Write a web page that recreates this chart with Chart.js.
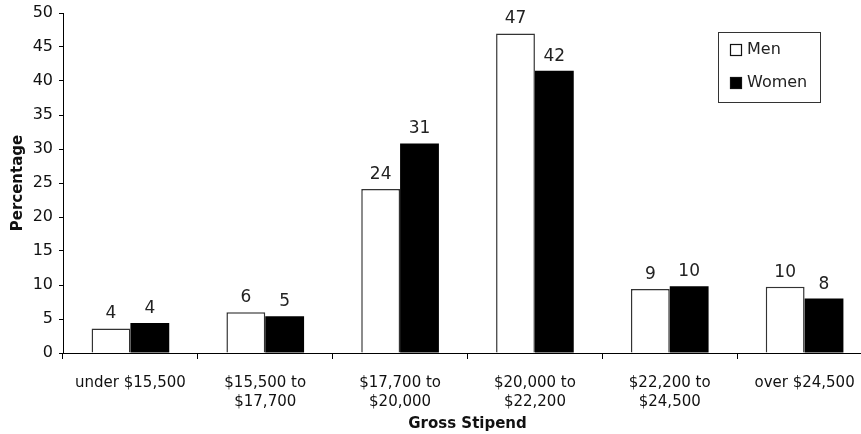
<!DOCTYPE html>
<html>
<head>
<meta charset="utf-8">
<script src="https://cdn.jsdelivr.net/npm/chart.js@4/dist/chart.umd.min.js"></script>
<style>
  html, body { margin: 0; padding: 0; background: #fff; overflow: hidden; }
  #wrap { width: 872px; height: 434px; }
</style>
</head>
<body>
<div id="wrap"><canvas id="chart1" width="872" height="434"></canvas></div>
<script>
const categories = [
  'under $15,500',
  ['$15,500 to', '$17,700'],
  ['$17,700 to', '$20,000'],
  ['$20,000 to', '$22,200'],
  ['$22,200 to', '$24,500'],
  'over $24,500'
];
const menValues = [3.6, 6.0, 24.1, 47.0, 9.4, 9.75];
const womenValues = [4.4, 5.4, 30.8, 41.5, 9.8, 8.0];
const yTicks = [0, 5, 10, 15, 20, 25, 30, 35, 40, 45, 50];

const FONT = 'Verdana, "DejaVu Sans", sans-serif';

// value labels above the bars
const valueLabels = {
  id: 'valueLabels',
  afterDatasetsDraw(chart) {
    const ctx = chart.ctx;
    ctx.save();
    ctx.font = '17px ' + FONT;
    ctx.fillStyle = '#222';
    ctx.textAlign = 'center';
    ctx.textBaseline = 'bottom';
    chart.data.datasets.forEach((ds, i) => {
      chart.getDatasetMeta(i).data.forEach((bar, j) => {
        ctx.fillText(Math.round(ds.data[j]), bar.x, bar.y - 6);
      });
    });
    ctx.restore();
  }
};

// boxed legend in the top right corner
const boxLegend = {
  id: 'boxLegend',
  afterDraw(chart) {
    const ctx = chart.ctx;
    const x = 718, y = 32, w = 102, h = 70;
    ctx.save();
    ctx.strokeStyle = '#333';
    ctx.lineWidth = 1;
    ctx.strokeRect(x + 0.5, y + 0.5, w, h);
    ctx.font = '16px ' + FONT;
    ctx.textBaseline = 'middle';
    chart.data.datasets.forEach((ds, i) => {
      const cy = y + 18 + i * 33;
      ctx.fillStyle = ds.backgroundColor;
      ctx.fillRect(x + 12, cy - 6, 12, 12);
      ctx.strokeStyle = '#111';
      ctx.lineWidth = 1.2;
      ctx.strokeRect(x + 12.5, cy - 5.5, 11, 11);
      ctx.fillStyle = '#222';
      ctx.fillText(ds.label, x + 29, cy);
    });
    ctx.restore();
  }
};

new Chart(document.getElementById('chart1'), {
  type: 'bar',
  data: {
    labels: categories,
    datasets: [{
      label: 'Men',
      data: menValues,
      backgroundColor: '#fff',
      borderColor: '#333',
      borderWidth: 1.5,
      borderSkipped: 'bottom'
    }, {
      label: 'Women',
      data: womenValues,
      backgroundColor: '#000',
      borderColor: '#000',
      borderWidth: 0
    }]
  },
  options: {
    responsive: false,
    animation: false,
    layout: { padding: { top: 13, right: 0, left: 0, bottom: 0 } },
    datasets: {
      bar: { barPercentage: 1, categoryPercentage: 0.576 }
    },
    plugins: {
      legend: { display: false },
      tooltip: { enabled: false }
    },
    scales: {
      x: {
        grid: { drawOnChartArea: false, drawTicks: true, tickLength: 6, color: '#000', offset: true },
        border: { display: true, color: '#000', width: 1 },
        ticks: { color: '#111', font: { family: FONT, size: 15, lineHeight: 1.25 }, padding: 15, maxRotation: 0, autoSkip: false },
        title: { display: true, text: 'Gross Stipend', color: '#111', font: { family: FONT, size: 15, weight: 'bold' }, padding: { top: 0, bottom: 1 } },
        afterFit(scale) { scale.height = 81; scale.paddingLeft = 0; scale.paddingRight = 0; }
      },
      y: {
        min: 0,
        max: 50,
        afterBuildTicks(scale) { scale.ticks = yTicks.map(v => ({ value: v })); },
        grid: { drawOnChartArea: false, drawTicks: true, tickLength: 4, color: '#000' },
        border: { display: true, color: '#000', width: 1 },
        ticks: { color: '#111', font: { family: FONT, size: 16 }, padding: 6 },
        title: { display: true, text: 'Percentage', color: '#111', font: { family: FONT, size: 15, weight: 'bold' }, padding: { top: 9, bottom: 0 } },
        afterFit(scale) { scale.width = 63; scale.paddingTop = 0; scale.paddingBottom = 0; }
      }
    }
  },
  plugins: [valueLabels, boxLegend]
});
</script>
</body>
</html>
